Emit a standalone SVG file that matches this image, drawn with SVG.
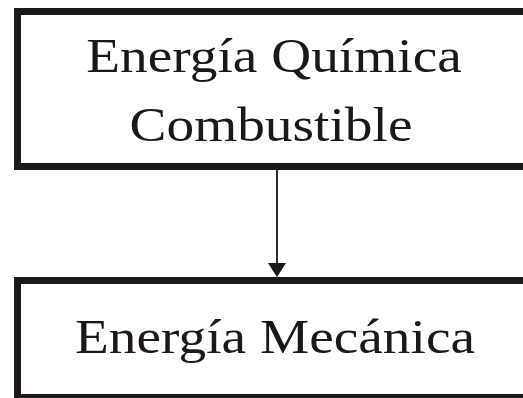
<svg xmlns="http://www.w3.org/2000/svg" width="523" height="398" viewBox="0 0 523 398">
<style>
.box{fill:#fff;stroke:#1c1718;stroke-width:7}
.t{font-family:"Liberation Serif","Times New Roman",serif;font-size:49px;fill:#1c1718;text-anchor:middle}
.c{stroke:#1c1718;stroke-width:1.8;fill:none}
</style>
<rect width="523" height="398" fill="#fff"/>
<g id="connectors">
<line class="c" x1="277" y1="170" x2="277" y2="266"/>
<polygon points="268,263 286,263 277,277" fill="#1c1718"/>
</g>
<g id="node1">
<rect class="box" x="17.5" y="11.5" width="515" height="155"/>
<text class="t" transform="translate(274,72) scale(1.13,1)">Energía Química</text>
<text class="t" transform="translate(271,140.5) scale(1.13,1)">Combustible</text>
</g>
<g id="node2">
<rect class="box" x="17.5" y="280.5" width="515" height="117"/>
<text class="t" transform="translate(275,353) scale(1.13,1)">Energía Mecánica</text>
</g>
</svg>
